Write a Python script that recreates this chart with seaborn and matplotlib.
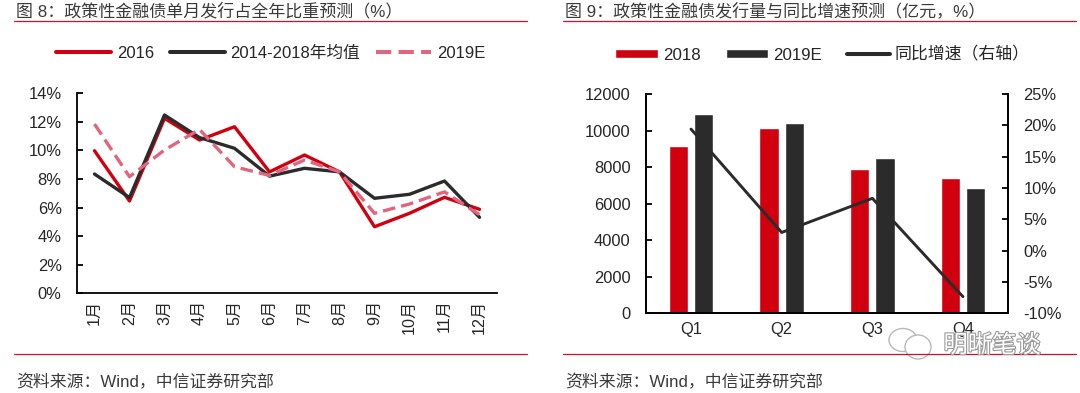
import pandas as pd
import seaborn as sns
import matplotlib.pyplot as plt
from matplotlib.lines import Line2D
from matplotlib.patches import Ellipse
from matplotlib.ticker import FuncFormatter
import matplotlib.patheffects as pe

# datos
meses = ["1月", "2月", "3月", "4月", "5月", "6月", "7月", "8月", "9月", "10月", "11月", "12月"]
v2016 = [9.98, 6.46, 12.25, 10.73, 11.66, 8.5, 9.68, 8.5, 4.66, 5.6, 6.72, 5.88]
media = [8.35, 6.7, 12.48, 10.9, 10.15, 8.2, 8.75, 8.5, 6.65, 6.93, 7.86, 5.32]
v2019e = [11.85, 8.16, 10.03, 11.47, 8.86, 8.25, 9.33, 8.5, 5.6, 6.25, 7.1, 5.5]

trimestres = ["Q1", "Q2", "Q3", "Q4"]
q2018 = [9170, 10120, 7880, 7400]
q2019e = [10920, 10400, 8480, 6840]
crecimiento = [19.4, 2.9, 8.35, -7.35]

ROJO = "#d0000f"
NEGRO = "#2b2b2b"
ROSA = "#e0667f"
TEXTO = "#262626"
GRIS = "#3a3a3a"
W, H = 1080, 393

sns.set_theme(style="white")
plt.rcParams["font.family"] = ["Liberation Sans", "Noto Sans CJK SC", "DejaVu Sans"]
plt.rcParams["text.color"] = TEXTO


def caja(x0, y_top, x1, y_bot):
    return [x0 / W, 1 - y_bot / H, (x1 - x0) / W, (y_bot - y_top) / H]


def estilo_ejes(ax):
    for s in ax.spines.values():
        s.set_color("black")
        s.set_linewidth(1.3)
    ax.spines["top"].set_visible(False)
    ax.tick_params(axis="y", direction="in", length=4.5, width=1.3, labelsize=11.9,
                   labelcolor=TEXTO, color="black", left=True, pad=11)
    ax.set_xlabel("")
    ax.set_ylabel("")
    ax.grid(False)


fig = plt.figure(figsize=(W / 100, H / 100), dpi=100)

# grafico 8
ax1 = fig.add_axes(caja(77, 93.3, 497, 293.3))
df1 = pd.DataFrame({
    "mes": meses * 3,
    "valor": v2016 + media + v2019e,
    "serie": ["2016"] * 12 + ["2014-2018年均值"] * 12 + ["2019E"] * 12,
})
sns.lineplot(data=df1, x="mes", y="valor", hue="serie", style="serie",
             palette={"2016": ROJO, "2014-2018年均值": NEGRO, "2019E": ROSA},
             dashes={"2016": "", "2014-2018年均值": "", "2019E": (3.8, 1.8)},
             linewidth=2.4, errorbar=None, sort=False, ax=ax1)
ax1.set_xlim(-0.5, 11.5)
ax1.set_ylim(0, 14)
ax1.set_yticks(range(0, 15, 2))
ax1.yaxis.set_major_formatter(FuncFormatter(lambda v, _: f"{v:.0f}%"))
estilo_ejes(ax1)
ax1.spines["right"].set_visible(False)
ax1.tick_params(axis="x", length=0, labelsize=11.6, labelcolor=TEXTO, rotation=90, pad=4.5)
h, l = ax1.get_legend_handles_labels()
leg1 = ax1.legend(h, l, ncol=3, frameon=False, fontsize=12, loc="center", handlelength=3.3,
                  columnspacing=0.95, handletextpad=0.35,
                  bbox_to_anchor=(270.5 / W, 1 - 53 / H), bbox_transform=fig.transFigure)
for linea in leg1.get_lines():
    linea.set_linewidth(2.9)
    linea.set_solid_capstyle("round")

# grafico 9
ax2 = fig.add_axes(caja(645.7, 94, 1008.3, 313.3))
df2 = pd.DataFrame({
    "trimestre": trimestres * 2,
    "valor": q2018 + q2019e,
    "serie": ["2018"] * 4 + ["2019E"] * 4,
})
sns.barplot(data=df2, x="trimestre", y="valor", hue="serie",
            palette={"2018": ROJO, "2019E": NEGRO}, width=0.5626, gap=0.24,
            saturation=1, ax=ax2)
ax2.set_ylim(0, 12000)
ax2.set_yticks(range(0, 12001, 2000))
estilo_ejes(ax2)
ax2.tick_params(axis="x", length=0, labelsize=11.9, labelcolor=TEXTO, pad=6)
h2, l2 = ax2.get_legend_handles_labels()
ax2.get_legend().remove()

ax3 = ax2.twinx()
sns.lineplot(x=trimestres, y=crecimiento, color=NEGRO, linewidth=2.1, ax=ax3, sort=False)
ax3.set_xlim(-0.5, 3.5)
ax3.set_ylim(-10, 25)
ax3.set_yticks(range(-10, 26, 5))
ax3.yaxis.set_major_formatter(FuncFormatter(lambda v, _: f"{v:.0f}%"))
estilo_ejes(ax3)
ax3.tick_params(axis="y", right=True, left=False, labelright=True, labelleft=False)
linea_leg = Line2D([], [], color=NEGRO, linewidth=2.9, solid_capstyle="round")
ax3.legend(h2 + [linea_leg], l2 + ["同比增速（右轴）"], ncol=3, frameon=False, fontsize=12.2,
           loc="center", handlelength=2.5, handleheight=0.45, columnspacing=1.5,
           handletextpad=0.3, bbox_to_anchor=(822.5 / W, 1 - 54.5 / H),
           bbox_transform=fig.transFigure)

# titulos, fuentes y reglas
fig.text(16 / W, 1 - 11 / H, "图 8：政策性金融债单月发行占全年比重预测（%）", fontsize=12.25, va="center", color=GRIS)
fig.text(565 / W, 1 - 11 / H, "图 9：政策性金融债发行量与同比增速预测（亿元，%）", fontsize=12.25, va="center", color=GRIS)
fig.text(16 / W, 1 - 382.3 / H, "资料来源：Wind，中信证券研究部", fontsize=12.15, va="center", color=GRIS)
fig.text(565 / W, 1 - 382.3 / H, "资料来源：Wind，中信证券研究部", fontsize=12.15, va="center", color=GRIS)
for x0, x1 in [(14, 527), (563.3, 1076)]:
    for y in [21, 353.7]:
        fig.add_artist(Line2D([x0 / W, x1 / W], [1 - y / H] * 2, color="#d0102a", linewidth=0.9))

# marca de agua
for cx, cy, ew, eh in [(903, 340, 28, 23), (918, 347, 26, 24)]:
    fig.add_artist(Ellipse((cx / W, 1 - cy / H), ew / W, eh / H, transform=fig.transFigure,
                           facecolor="white", edgecolor="#b8b8b8", linewidth=1.0))
fig.text(992 / W, 1 - 346 / H, "明晰笔谈", fontsize=17.5, ha="center", va="center", color="white",
         path_effects=[pe.withStroke(linewidth=1.6, foreground="#9a9a9a")])

fig.savefig("out.png", dpi=100)
